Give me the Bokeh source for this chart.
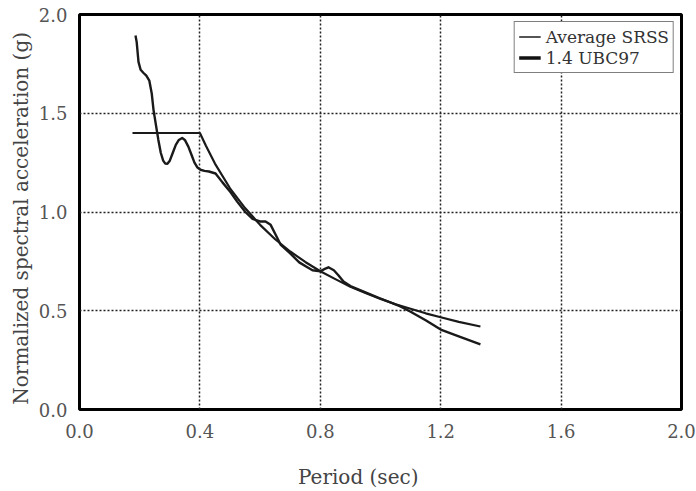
from bokeh.plotting import figure
from bokeh.models import Range1d, FixedTicker, PrintfTickFormatter, Legend, LegendItem
from bokeh.embed import file_html
from bokeh.resources import INLINE

# Average SRSS spectrum (period in sec, normalized spectral acceleration in g)
srss_period = [0.186, 0.190, 0.196, 0.203, 0.212, 0.222, 0.232, 0.240, 0.246, 0.254, 0.262,
               0.270, 0.278, 0.285, 0.292, 0.300, 0.310, 0.320, 0.330, 0.341, 0.350, 0.362,
               0.372, 0.382, 0.392, 0.402, 0.415, 0.430, 0.452, 0.475, 0.502, 0.525, 0.551,
               0.575, 0.600, 0.618, 0.635, 0.650, 0.668, 0.700, 0.730, 0.757, 0.774, 0.800,
               0.815, 0.827, 0.845, 0.860, 0.877, 0.900, 0.950, 1.000, 1.066, 1.100, 1.150,
               1.200, 1.260, 1.332]
srss_accel = [1.894, 1.86, 1.76, 1.72, 1.705, 1.69, 1.665, 1.60, 1.516, 1.44, 1.365,
              1.30, 1.26, 1.245, 1.244, 1.26, 1.30, 1.34, 1.365, 1.375, 1.365, 1.33,
              1.29, 1.25, 1.225, 1.214, 1.208, 1.205, 1.195, 1.15, 1.10, 1.05, 1.00,
              0.965, 0.952, 0.952, 0.935, 0.89, 0.835, 0.79, 0.745, 0.72, 0.705, 0.70,
              0.712, 0.72, 0.705, 0.68, 0.648, 0.625, 0.593, 0.562, 0.522, 0.495, 0.452,
              0.405, 0.37, 0.33]

# 1.4 x UBC97 design spectrum
ubc_period = [0.176, 0.40, 0.42, 0.45, 0.50, 0.55, 0.60, 0.65, 0.70, 0.75, 0.80, 0.85,
              0.90, 0.95, 1.00, 1.05, 1.10, 1.15, 1.20, 1.26, 1.332]
ubc_accel = [1.40, 1.40, 1.335, 1.245, 1.12, 1.02, 0.935, 0.862, 0.80, 0.747, 0.70, 0.66,
             0.622, 0.59, 0.56, 0.533, 0.51, 0.487, 0.467, 0.444, 0.42]

x_ticks = [0.0, 0.4, 0.8, 1.2, 1.6, 2.0]
y_ticks = [0.0, 0.5, 1.0, 1.5, 2.0]

FONT = "DejaVu Serif"
NBSP = "\u00a0"

p = figure(width=696, height=491, output_backend="svg", toolbar_location=None,
           x_range=Range1d(0, 2), y_range=Range1d(0, 2),
           min_border_left=79, min_border_right=15, min_border_top=14, min_border_bottom=80)

r1 = p.line(srss_period, srss_accel, line_color="#1a1a1a", line_width=2.4,
            line_join="round")
r2 = p.line(ubc_period, ubc_accel, line_color="#1a1a1a", line_width=2.2,
            line_join="round")

p.outline_line_color = "black"
p.outline_line_width = 3
p.outline_line_alpha = 1.0

for ax in (p.xaxis[0], p.yaxis[0]):
    ax.axis_line_color = None
    ax.major_tick_line_color = None
    ax.minor_tick_line_color = None
    ax.major_label_text_font = FONT
    ax.major_label_text_font_size = "18px"
    ax.major_label_text_color = "#555555"
    ax.axis_label_text_font = FONT
    ax.axis_label_text_font_size = "20px"
    ax.axis_label_text_font_style = "normal"
    ax.axis_label_text_color = "#444444"
    ax.formatter = PrintfTickFormatter(format="%.1f")

p.xaxis[0].ticker = FixedTicker(ticks=x_ticks)
p.yaxis[0].ticker = FixedTicker(ticks=y_ticks)
# trailing no-break spaces shift the visible title left of centre, as in the reference
p.xaxis[0].axis_label = "Period (sec)" + NBSP * 7
p.yaxis[0].axis_label = "Normalized spectral acceleration (g)" + NBSP * 2
p.xaxis[0].major_label_standoff = 8
p.yaxis[0].major_label_standoff = 6
p.xaxis[0].axis_label_standoff = 24
p.yaxis[0].axis_label_standoff = 3

for g in (p.xgrid[0], p.ygrid[0]):
    g.grid_line_color = "#222222"
    g.grid_line_dash = "2 2"
    g.grid_line_width = 1.5
p.xgrid[0].ticker = FixedTicker(ticks=x_ticks[1:-1])
p.ygrid[0].ticker = FixedTicker(ticks=y_ticks[1:-1])

r_leg1 = p.line([0], [0], line_color="#555555", line_width=1.8, visible=False)
r_leg2 = p.line([0], [0], line_color="#111111", line_width=3.5, visible=False)

legend = Legend(items=[LegendItem(label="Average SRSS", renderers=[r_leg1]),
                       LegendItem(label="1.4 UBC97", renderers=[r_leg2])],
                location="top_right")
legend.margin = 7
legend.padding = 4
legend.spacing = 0
legend.label_text_font = FONT
legend.label_text_font_size = "17px"
legend.label_text_color = "#333333"
legend.label_height = 21
legend.glyph_height = 21
legend.glyph_width = 22
legend.border_line_color = "black"
legend.border_line_width = 1.5
legend.background_fill_alpha = 1.0
p.add_layout(legend)

open("out.html", "w").write(file_html(p, INLINE))
